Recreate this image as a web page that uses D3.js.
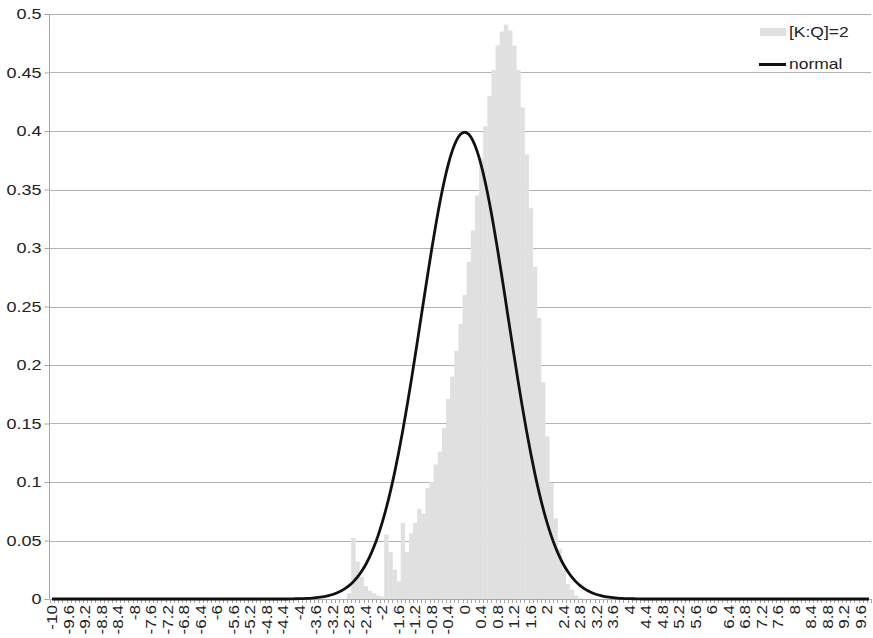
<!DOCTYPE html>
<html>
<head>
<meta charset="utf-8">
<script src="https://cdn.jsdelivr.net/npm/d3@7/dist/d3.min.js"></script>
<style>
  html, body { margin: 0; padding: 0; background: #fff; }
  svg { display: block; }
  text { font-family: "Liberation Sans", Arial, sans-serif; fill: #222; }
</style>
</head>
<body>
<svg id="chart" width="873" height="638"></svg>
<script>
// Category axis: bin values from -10 to 9.8 in steps of 0.1
const categories = [
  -10, -9.9, -9.8, -9.7, -9.6, -9.5, -9.4, -9.3, -9.2, -9.1,
  -9, -8.9, -8.8, -8.7, -8.6, -8.5, -8.4, -8.3, -8.2, -8.1,
  -8, -7.9, -7.8, -7.7, -7.6, -7.5, -7.4, -7.3, -7.2, -7.1,
  -7, -6.9, -6.8, -6.7, -6.6, -6.5, -6.4, -6.3, -6.2, -6.1,
  -6, -5.9, -5.8, -5.7, -5.6, -5.5, -5.4, -5.3, -5.2, -5.1,
  -5, -4.9, -4.8, -4.7, -4.6, -4.5, -4.4, -4.3, -4.2, -4.1,
  -4, -3.9, -3.8, -3.7, -3.6, -3.5, -3.4, -3.3, -3.2, -3.1,
  -3, -2.9, -2.8, -2.7, -2.6, -2.5, -2.4, -2.3, -2.2, -2.1,
  -2, -1.9, -1.8, -1.7, -1.6, -1.5, -1.4, -1.3, -1.2, -1.1,
  -1, -0.9, -0.8, -0.7, -0.6, -0.5, -0.4, -0.3, -0.2, -0.1,
  0, 0.1, 0.2, 0.3, 0.4, 0.5, 0.6, 0.7, 0.8, 0.9,
  1, 1.1, 1.2, 1.3, 1.4, 1.5, 1.6, 1.7, 1.8, 1.9,
  2, 2.1, 2.2, 2.3, 2.4, 2.5, 2.6, 2.7, 2.8, 2.9,
  3, 3.1, 3.2, 3.3, 3.4, 3.5, 3.6, 3.7, 3.8, 3.9,
  4, 4.1, 4.2, 4.3, 4.4, 4.5, 4.6, 4.7, 4.8, 4.9,
  5, 5.1, 5.2, 5.3, 5.4, 5.5, 5.6, 5.7, 5.8, 5.9,
  6, 6.1, 6.2, 6.3, 6.4, 6.5, 6.6, 6.7, 6.8, 6.9,
  7, 7.1, 7.2, 7.3, 7.4, 7.5, 7.6, 7.7, 7.8, 7.9,
  8, 8.1, 8.2, 8.3, 8.4, 8.5, 8.6, 8.7, 8.8, 8.9,
  9, 9.1, 9.2, 9.3, 9.4, 9.5, 9.6, 9.7, 9.8
];

// Histogram density of [K:Q]=2, one value per category
const histValues = [
  0, 0, 0, 0, 0, 0, 0, 0, 0, 0,
  0, 0, 0, 0, 0, 0, 0, 0, 0, 0,
  0, 0, 0, 0, 0, 0, 0, 0, 0, 0,
  0, 0, 0, 0, 0, 0, 0, 0, 0, 0,
  0, 0, 0, 0, 0, 0, 0, 0, 0, 0,
  0, 0, 0, 0, 0, 0, 0, 0, 0, 0,
  0, 0, 0, 0, 0, 0, 0, 0, 0, 0,
  0, 0, 0.005, 0.052, 0.032, 0.019, 0.011, 0.007, 0.005, 0.003,
  0.002, 0.055, 0.040, 0.025, 0.015, 0.065, 0.040, 0.056, 0.065, 0.077,
  0.073, 0.095, 0.100, 0.115, 0.126, 0.146, 0.171, 0.190, 0.212, 0.235,
  0.260, 0.288, 0.315, 0.345, 0.377, 0.404, 0.430, 0.452, 0.473, 0.485,
  0.491, 0.486, 0.473, 0.452, 0.420, 0.380, 0.334, 0.284, 0.240, 0.185,
  0.139, 0.099, 0.069, 0.043, 0.025, 0.013, 0.008, 0.003, 0.001, 0,
  0, 0, 0, 0, 0, 0, 0, 0, 0, 0,
  0, 0, 0, 0, 0, 0, 0, 0, 0, 0,
  0, 0, 0, 0, 0, 0, 0, 0, 0, 0,
  0, 0, 0, 0, 0, 0, 0, 0, 0, 0,
  0, 0, 0, 0, 0, 0, 0, 0, 0, 0,
  0, 0, 0, 0, 0, 0, 0, 0, 0, 0,
  0, 0, 0, 0, 0, 0, 0, 0, 0
];

// "normal" reference curve, one value per category (-10 … 9.8)
const normalValues = [
  // -10 … -4.3
  0, 0, 0, 0, 0, 0, 0, 0, 0, 0,
  0, 0, 0, 0, 0, 0, 0, 0, 0, 0,
  0, 0, 0, 0, 0, 0, 0, 0, 0, 0,
  0, 0, 0, 0, 0, 0, 0, 0, 0, 0,
  0, 0, 0, 0, 0, 0, 0, 0, 0, 0,
  0, 0, 0, 0, 0, 0, 0, 0,
  // -4.2 … -0.1
  0.00013, 0.00020, 0.00028, 0.00040, 0.00057, 0.00080, 0.00112, 0.00154, 0.00211, 0.00286,
  0.00384, 0.00511, 0.00674, 0.00880, 0.01140, 0.01463, 0.01860, 0.02344, 0.02927, 0.03622,
  0.04443, 0.05399, 0.06502, 0.07761, 0.09178, 0.10757, 0.12494, 0.14380, 0.16401, 0.18537,
  0.20763, 0.23046, 0.25349, 0.27630, 0.29844, 0.31945, 0.33885, 0.35618, 0.37102, 0.38298,
  0.39177, 0.39714,
  // 0
  0.39894,
  // 0.1 … 4.2
  0.39714, 0.39177,
  0.38298, 0.37102, 0.35618, 0.33885, 0.31945, 0.29844, 0.27630, 0.25349, 0.23046, 0.20763,
  0.18537, 0.16401, 0.14380, 0.12494, 0.10757, 0.09178, 0.07761, 0.06502, 0.05399, 0.04443,
  0.03622, 0.02927, 0.02344, 0.01860, 0.01463, 0.01140, 0.00880, 0.00674, 0.00511, 0.00384,
  0.00286, 0.00211, 0.00154, 0.00112, 0.00080, 0.00057, 0.00040, 0.00028, 0.00020, 0.00013,
  // 4.3 … 9.8
  0, 0, 0, 0, 0, 0, 0, 0, 0, 0,
  0, 0, 0, 0, 0, 0, 0, 0, 0, 0,
  0, 0, 0, 0, 0, 0, 0, 0, 0, 0,
  0, 0, 0, 0, 0, 0, 0, 0, 0, 0,
  0, 0, 0, 0, 0, 0, 0, 0, 0, 0,
  0, 0, 0, 0, 0, 0
];

// Labelled categories on the x axis (every fourth bin)
const xTickLabels = [
  "-10", "-9.6", "-9.2", "-8.8", "-8.4", "-8", "-7.6", "-7.2", "-6.8", "-6.4",
  "-6", "-5.6", "-5.2", "-4.8", "-4.4", "-4", "-3.6", "-3.2", "-2.8", "-2.4",
  "-2", "-1.6", "-1.2", "-0.8", "-0.4", "0", "0.4", "0.8", "1.2", "1.6",
  "2", "2.4", "2.8", "3.2", "3.6", "4", "4.4", "4.8", "5.2", "5.6",
  "6", "6.4", "6.8", "7.2", "7.6", "8", "8.4", "8.8", "9.2", "9.6"
];

// Value axis ticks
const yTickValues = [0, 0.05, 0.1, 0.15, 0.2, 0.25, 0.3, 0.35, 0.4, 0.45, 0.5];
const yTickLabels = ["0", "0.05", "0.1", "0.15", "0.2", "0.25", "0.3", "0.35", "0.4", "0.45", "0.5"];

const seriesNames = ["[K:Q]=2", "normal"];

// ---------------------------------------------------------------
const svg = d3.select("#chart");
const plot = { left: 50, right: 871, top: 14, bottom: 599 };

const keys = categories.map(String);
const x = d3.scaleBand().domain(keys).range([plot.left, plot.right]).padding(0);
const y = d3.scaleLinear().domain([0, 0.5]).range([plot.bottom, plot.top]);
const bw = x.bandwidth();
const cx = k => x(k) + bw / 2;

// Horizontal gridlines
svg.append("g")
  .selectAll("line")
  .data(yTickValues.filter(v => v > 0))
  .join("line")
  .attr("x1", plot.left).attr("x2", plot.right)
  .attr("y1", d => Math.round(y(d)) + 0.5).attr("y2", d => Math.round(y(d)) + 0.5)
  .attr("stroke", "#b3b3b3").attr("stroke-width", 1);

// Histogram columns (no gap between bins)
svg.append("g")
  .selectAll("rect")
  .data(keys.map((k, i) => ({ k, v: histValues[i] })).filter(d => d.v > 0))
  .join("rect")
  .attr("x", d => x(d.k))
  .attr("width", bw + 0.35)
  .attr("y", d => y(d.v))
  .attr("height", d => y(0) - y(d.v))
  .attr("fill", "#e0e0e0");

// Value axis
const yAxis = d3.axisLeft(y)
  .tickValues(yTickValues)
  .tickSize(5)
  .tickPadding(3)
  .tickFormat((d, i) => yTickLabels[i]);
const gy = svg.append("g")
  .attr("transform", `translate(${plot.left - 0.5},0)`)
  .call(yAxis);
gy.select(".domain").attr("stroke", "#a6a6a6").attr("d", `M0,${plot.top}V${plot.bottom}`);
gy.selectAll(".tick line").attr("stroke", "#a6a6a6");
gy.selectAll(".tick text")
  .attr("font-size", 15)
  .attr("font-family", "Liberation Sans, Arial, sans-serif")
  .attr("fill", "#222")
  .each(function () {
    const t = d3.select(this);
    const tx = +t.attr("x");
    t.attr("x", null).attr("transform", `translate(${tx},0) scale(1.2,1)`);
  });

// Category axis: baseline, bin ticks and rotated labels
const gx = svg.append("g");
gx.append("line")
  .attr("x1", plot.left).attr("x2", plot.right)
  .attr("y1", plot.bottom + 0.5).attr("y2", plot.bottom + 0.5)
  .attr("stroke", "#a6a6a6");
gx.selectAll("line.bin")
  .data(keys.concat(["end"]))
  .join("line")
  .attr("class", "bin")
  .attr("x1", k => Math.round(k === "end" ? plot.right : x(k)) + 0.5)
  .attr("x2", k => Math.round(k === "end" ? plot.right : x(k)) + 0.5)
  .attr("y1", plot.bottom).attr("y2", plot.bottom + 4)
  .attr("stroke", "#a6a6a6");
gx.selectAll("text")
  .data(xTickLabels)
  .join("text")
  .attr("transform", d => `translate(${cx(String(+d))},${plot.bottom + 6}) rotate(-90) scale(1.22,1)`)
  .attr("text-anchor", "end")
  .attr("dy", "0.36em")
  .attr("font-size", 14)
  .text(d => d);

// Normal density line
const line = d3.line()
  .x((d, i) => cx(keys[i]))
  .y(d => y(d))
  .curve(d3.curveMonotoneX);
svg.append("path")
  .datum(normalValues)
  .attr("d", line)
  .attr("fill", "none")
  .attr("stroke", "#111")
  .attr("stroke-width", 2.8)
  .attr("stroke-linejoin", "round");

// Legend
const lg = svg.append("g");
lg.append("rect")
  .attr("x", 760).attr("y", 28).attr("width", 26).attr("height", 8)
  .attr("fill", "#e0e0e0");
lg.append("line")
  .attr("x1", 759).attr("x2", 786).attr("y1", 64.5).attr("y2", 64.5)
  .attr("stroke", "#111").attr("stroke-width", 3);
lg.selectAll("text")
  .data(seriesNames)
  .join("text")
  .attr("transform", (d, i) => `translate(789,${37 + i * 32}) scale(1.25,1)`)
  .attr("font-size", 14)
  .text(d => d);
</script>
</body>
</html>
